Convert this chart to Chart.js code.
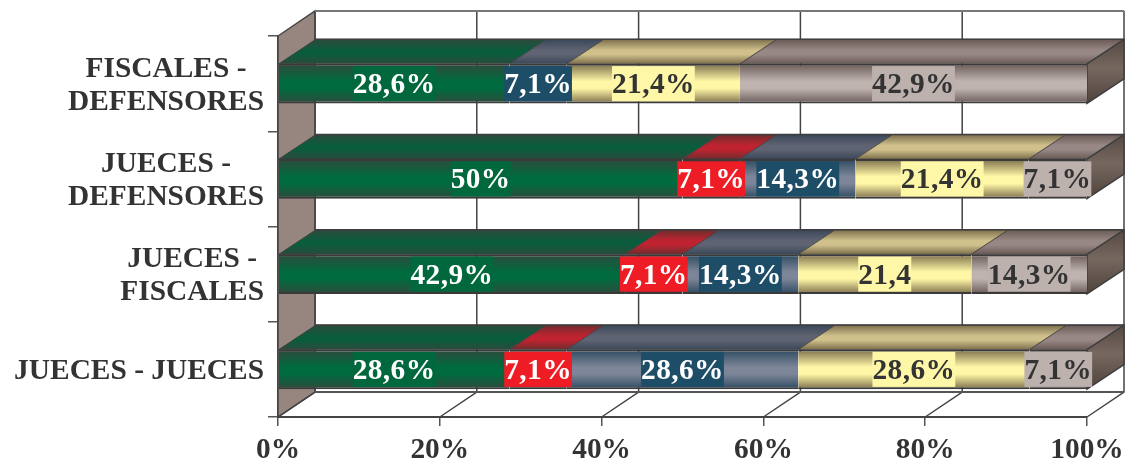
<!DOCTYPE html>
<html>
<head>
<meta charset="utf-8">
<style>html,body{margin:0;padding:0;background:#fff}canvas{display:block}</style>
<script src="https://cdn.jsdelivr.net/npm/chart.js@4"></script>
</head>
<body>
<canvas id="c" width="1129" height="461"></canvas>
<script>
const categories = [["FISCALES -","DEFENSORES"],["JUECES -","DEFENSORES"],["JUECES -","FISCALES"],["JUECES - JUECES"]];
const xTickLabels = ["0%","20%","40%","60%","80%","100%"];
const greenValues  = [28.6,50,42.9,28.6];
const redValues    = [0,7.1,7.1,7.1];
const blueValues   = [7.1,14.3,14.3,28.6];
const yellowValues = [21.4,21.4,21.4,28.6];
const brownValues  = [42.9,7.1,14.3,7.1];
const greenLabels  = ["28,6%","50%","42,9%","28,6%"];
const redLabels    = ["","7,1%","7,1%","7,1%"];
const blueLabels   = ["7,1%","14,3%","14,3%","28,6%"];
const yellowLabels = ["21,4%","21,4%","21,4","28,6%"];
const brownLabels  = ["42,9%","7,1%","14,3%","7,1%"];

const DX = 37, DY = 24.5, WALL_DY = 25;
const FONT = 'bold 29.4px "Liberation Serif"';
const SPACING = '0.4px';
const INK = '#333333';

const styles = [
  {edge:'#2f4a3d', mid:'#006b3f', topEdge:'#2c4a3c', topMid:'#0b5c3c', box:'#00683c', text:'#ffffff'},
  {edge:'#6b2b2d', mid:'#c8202c', topEdge:'#6e2d2e', topMid:'#bf2330', box:'#ee1c25', text:'#ffffff'},
  {edge:'#2d4a60', mid:'#7d8598', topEdge:'#3a485a', topMid:'#5f6372', box:'#1e4d68', text:'#ffffff'},
  {edge:'#7d6e4c', mid:'#fff7a6', topEdge:'#7d6e4c', topMid:'#cfc08c', box:'#fff7a8', text:INK},
  {edge:'#6a5b57', mid:'#bfb3b0', topEdge:'#695a56', topMid:'#978885', box:'#bdb1ae', text:INK}
];
const valueArrays = [greenValues,redValues,blueValues,yellowValues,brownValues];
const labelArrays = [greenLabels,redLabels,blueLabels,yellowLabels,brownLabels];
const BAR_PCT = 0.415;

function bandGradient(ctx, top, bottom, edge, mid){
  const g = ctx.createLinearGradient(0,top,0,bottom);
  g.addColorStop(0,edge); g.addColorStop(0.44,mid); g.addColorStop(0.62,mid); g.addColorStop(1,edge);
  return g;
}

const scene3d = {
  id:'scene3d',
  beforeDatasetsDraw(chart){
    const {ctx, scales:{x,y}} = chart;
    const l=x.left, r=x.right, t=y.top, b=y.bottom;
    ctx.save();
    ctx.beginPath();
    ctx.moveTo(l,t); ctx.lineTo(l+DX,t-WALL_DY); ctx.lineTo(l+DX,b-WALL_DY); ctx.lineTo(l,b); ctx.closePath();
    ctx.fillStyle='#96867f'; ctx.fill();
    ctx.strokeStyle='#444444'; ctx.lineWidth=1.5; ctx.stroke();
    xTickLabels.forEach((_,i)=>{
      const px = x.getPixelForValue(i*20);
      ctx.strokeStyle='#444444'; ctx.lineWidth=1.5;
      ctx.beginPath();
      ctx.moveTo(px,b); ctx.lineTo(px+DX,b-WALL_DY);
      ctx.lineTo(px+DX,t-WALL_DY);
      ctx.stroke();
    });
    ctx.strokeStyle='#777777'; ctx.lineWidth=2;
    ctx.beginPath(); ctx.moveTo(l+DX,t-WALL_DY); ctx.lineTo(r+DX,t-WALL_DY); ctx.stroke();
    ctx.strokeStyle='#555555';
    ctx.beginPath(); ctx.moveTo(l+DX,b-WALL_DY); ctx.lineTo(r+DX,b-WALL_DY); ctx.stroke();
    categories.forEach((_,row)=>{
      let lastEl=null;
      chart.data.datasets.forEach((ds,d)=>{
        const el = chart.getDatasetMeta(d).data[row];
        if(!ds.data[row]) return;
        const s=styles[d], x0=Math.min(el.base,el.x), x1=Math.max(el.base,el.x);
        const top=el.y-el.height/2, backY=top-DY;
        ctx.beginPath();
        ctx.moveTo(x0,top); ctx.lineTo(x0+DX,backY); ctx.lineTo(x1+DX,backY); ctx.lineTo(x1,top); ctx.closePath();
        ctx.fillStyle=bandGradient(ctx,backY,top,s.topEdge,s.topMid); ctx.fill();
        ctx.strokeStyle='rgba(60,60,60,0.75)'; ctx.lineWidth=1; ctx.stroke();
        ctx.strokeStyle='#3e3e3e'; ctx.lineWidth=1.5;
        ctx.beginPath(); ctx.moveTo(x0+DX,backY); ctx.lineTo(x1+DX,backY); ctx.stroke();
        lastEl=el;
      });
      if(lastEl){
        const xe=x.getPixelForValue(100), top=lastEl.y-lastEl.height/2, bot=lastEl.y+lastEl.height/2;
        ctx.beginPath();
        ctx.moveTo(xe,top); ctx.lineTo(xe+DX,top-DY); ctx.lineTo(xe+DX,bot-DY); ctx.lineTo(xe,bot); ctx.closePath();
        const g=ctx.createLinearGradient(0,top-DY,0,bot);
        g.addColorStop(0,'#564942'); g.addColorStop(0.45,'#76685f'); g.addColorStop(1,'#4f433d');
        ctx.fillStyle=g; ctx.fill();
        ctx.strokeStyle='#3e3e3e'; ctx.lineWidth=1.5; ctx.stroke();
      }
    });
    ctx.restore();
  },
  afterDatasetsDraw(chart){
    const {ctx, scales:{y}} = chart;
    ctx.save();
    ctx.font=FONT;
    ctx.textBaseline='middle'; ctx.textAlign='center';
    ctx.letterSpacing=SPACING;
    labelArrays.forEach((labels,d)=>{
      const meta=chart.getDatasetMeta(d);
      labels.forEach((txt,row)=>{
        if(!txt) return;
        const c=meta.data[row].getCenterPoint();
        const w=ctx.measureText(txt).width;
        ctx.fillStyle=styles[d].box;
        ctx.fillRect(c.x-w/2,c.y-17.5,w,35);
        ctx.fillStyle=styles[d].text;
        ctx.fillText(txt,c.x,c.y+2);
      });
    });
    ctx.letterSpacing='0px';
    ctx.fillStyle=INK;
    categories.forEach((lines,row)=>{
      const cy=y.getPixelForValue(row);
      const w=Math.max(...lines.map(s=>ctx.measureText(s).width));
      const cx=264-w/2;
      lines.forEach((s,i)=>{
        ctx.fillText(s,cx,cy+2+(i-(lines.length-1)/2)*33);
      });
    });
    ctx.restore();
  }
};

new Chart(document.getElementById('c'),{
  type:'bar',
  plugins:[scene3d],
  data:{
    labels:categories,
    datasets:valueArrays.map((vals,d)=>({
      data:vals,
      stack:'s',
      barPercentage:BAR_PCT,
      categoryPercentage:1,
      borderSkipped:false,
      borderWidth:{top:2,bottom:2,left:0,right:0},
      borderColor:'#3a3a3a',
      backgroundColor(ctx){
        const chart=ctx.chart, y=chart.scales.y;
        if(!y || !chart.chartArea) return styles[d].mid;
        const band=(y.bottom-y.top)/categories.length*BAR_PCT/2, c=y.getPixelForValue(ctx.dataIndex);
        return bandGradient(chart.ctx,c-band,c+band,styles[d].edge,styles[d].mid);
      }
    }))
  },
  options:{
    indexAxis:'y',
    responsive:false,
    animation:false,
    events:[],
    layout:{padding:{top:36,right:42,left:0,bottom:0}},
    plugins:{legend:{display:false},title:{display:false},tooltip:{enabled:false}},
    scales:{
      x:{
        type:'linear',stacked:true,min:0,max:100,
        afterFit(s){s.height=44;s.paddingLeft=0;s.paddingRight=0;},
        grid:{drawOnChartArea:false,drawTicks:true,tickLength:9,color:'#555555',lineWidth:1.5},
        border:{display:true,color:'#444444',width:2},
        ticks:{stepSize:20,padding:7,maxRotation:0,autoSkip:false,color:INK,font:{family:'"Liberation Serif"',size:29.4,weight:'bold'},
          callback(v){return xTickLabels[v/20];}}
      },
      y:{
        type:'category',stacked:true,reverse:false,
        afterFit(s){s.width=278;},
        grid:{drawOnChartArea:false,drawTicks:true,tickLength:10,color:'#555555',lineWidth:1.5,offset:true},
        border:{display:true,color:'#444444',width:1.5},
        ticks:{display:false}
      }
    }
  }
});
</script>
</body>
</html>
